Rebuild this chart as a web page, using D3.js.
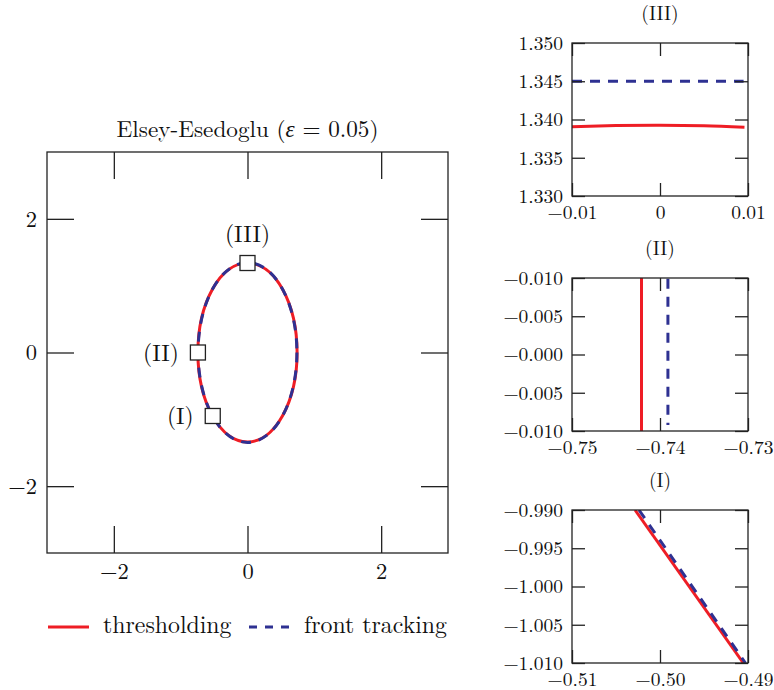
<!DOCTYPE html>
<html>
<head>
<meta charset="utf-8">
<script src="https://cdn.jsdelivr.net/npm/d3@7"></script>
<style>
  body { margin: 0; background: #fff; }
  svg text { fill: #111; }
</style>
</head>
<body>
<div id="chart"></div>
<script>
// ---- data ----
const seriesNames = ['thresholding', 'front tracking'];
const seriesColors = ['#ee1d25', '#2e3192'];

// interfaces on the full domain as [cx, cy, rx, ry]
const thresholdEllipse = [0, 0, 0.742, 1.3392];
const frontEllipse = [0, 0, 0.7395, 1.345];

const mainTicks = [-2, 0, 2];
const markerNames = ['(I)', '(II)', '(III)'];
const markerPoints = [[-0.52, -0.95], [-0.742, 0], [0, 1.339]];

// zoomed windows, top to bottom
const insetNames = ['(III)', '(II)', '(I)'];
const insetXDomains = [[-0.01, 0.01], [-0.75, -0.73], [-0.51, -0.49]];
const insetYDomains = [[1.33, 1.35], [-0.01, 0.01], [-1.01, -0.99]];
const insetXTicks = [[-0.01, 0, 0.01], [-0.75, -0.74, -0.73], [-0.51, -0.50, -0.49]];
const insetXLabels = [['−0.01', '0', '0.01'], ['−0.75', '−0.74', '−0.73'], ['−0.51', '−0.50', '−0.49']];
const insetYTicks = [[1.33, 1.335, 1.34, 1.345, 1.35],
                     [-0.01, -0.005, 0, 0.005, 0.01],
                     [-1.01, -1.005, -1.0, -0.995, -0.99]];
const insetYLabels = [['1.330', '1.335', '1.340', '1.345', '1.350'],
                      ['−0.010', '−0.005', '−0.000', '−0.005', '−0.010'],
                      ['−1.010', '−1.005', '−1.000', '−0.995', '−0.990']];
const thresholdInset = [
  [[-0.01, 1.33904], [-0.005, 1.33920], [0, 1.33925], [0.005, 1.33918], [0.0096, 1.33900]],
  [[-0.7421, 0.0101], [-0.7421, -0.0101]],
  [[-0.50284, -0.99], [-0.49053, -1.01]]
];
const frontInset = [
  [[-0.01, 1.345], [0.0095, 1.345]],
  [[-0.7391, 0.0099], [-0.7391, -0.0092]],
  [[-0.50239, -0.99], [-0.49029, -1.01]]
];

// ---- drawing ----
const width = 774, height = 690;
const ink = '#222';
const serif = '"Latin Modern Roman", "Liberation Serif", serif';
const dash = '10,8';

const svg = d3.select('#chart').append('svg')
  .attr('width', width).attr('height', height)
  .attr('font-family', serif);

// boxed axes with inward ticks on all four sides
function boxAxes(g, x, y, o) {
  const [x0, x1] = x.range();
  const [y1, y0] = y.range();
  const fmtX = o.xLabels ? (d, i) => o.xLabels[i] : d => d3.format('d')(d).replace('-', '−');
  const fmtY = o.yLabels ? (d, i) => o.yLabels[i] : d => d3.format('d')(d).replace('-', '−');
  const sides = [
    [d3.axisBottom(x).tickValues(o.xTicks).tickFormat(fmtX), `translate(0,${y1})`],
    [d3.axisTop(x).tickValues(o.xTicks).tickFormat(''), `translate(0,${y0})`],
    [d3.axisLeft(y).tickValues(o.yTicks).tickFormat(fmtY), `translate(${x0},0)`],
    [d3.axisRight(y).tickValues(o.yTicks).tickFormat(''), `translate(${x1},0)`]
  ];
  sides.forEach(([axis, tr]) => {
    const a = g.append('g').attr('transform', tr)
      .call(axis.tickSize(-o.tick).tickPadding(o.pad))
      .attr('font-size', o.fontSize)
      .attr('font-family', serif);
    a.select('.domain').remove();
    a.selectAll('line').attr('stroke', ink).attr('stroke-width', 1.3);
  });
  g.append('rect')
    .attr('x', x0).attr('y', y0)
    .attr('width', x1 - x0).attr('height', y1 - y0)
    .attr('fill', 'none').attr('stroke', ink).attr('stroke-width', 1.3);
}

// main panel
{
  const left = 47, top = 152, size = 401;
  const x = d3.scaleLinear().domain([-3, 3]).range([left, left + size]);
  const y = d3.scaleLinear().domain([-3, 3]).range([top + size, top]);
  const g = svg.append('g');

  g.append('text')
    .attr('x', left + size / 2).attr('y', 137)
    .attr('text-anchor', 'middle').attr('font-size', 23.2)
    .call(t => {
      t.append('tspan').text('Elsey-Esedoglu (');
      t.append('tspan').attr('font-style', 'italic').text('ε');
      t.append('tspan').text(' = 0.05)');
    });

  boxAxes(g, x, y, { xTicks: mainTicks, yTicks: mainTicks, tick: 27, pad: 10, fontSize: 22.5 });

  [thresholdEllipse, frontEllipse].forEach((e, i) => {
    g.append('ellipse')
      .attr('cx', x(e[0])).attr('cy', y(e[1]))
      .attr('rx', x(e[2]) - x(0)).attr('ry', y(0) - y(e[3]))
      .attr('fill', 'none')
      .attr('stroke', seriesColors[i]).attr('stroke-width', 3)
      .attr('stroke-dasharray', i === 1 ? dash : null);
  });

  const m = g.selectAll('g.marker').data(markerPoints).join('g')
    .attr('class', 'marker')
    .attr('transform', d => `translate(${x(d[0])},${y(d[1])})`);
  m.append('rect')
    .attr('x', -7.5).attr('y', -7.5).attr('width', 15).attr('height', 15)
    .attr('fill', '#fff').attr('stroke', ink).attr('stroke-width', 1.3);
  m.append('text')
    .attr('font-size', 23.5)
    .attr('text-anchor', (d, i) => i === 2 ? 'middle' : 'end')
    .attr('x', (d, i) => i === 2 ? 0 : -19)
    .attr('y', (d, i) => i === 2 ? -21 : 8)
    .text((d, i) => markerNames[i]);

  // legend
  const lg = svg.append('g').attr('font-size', 23.8);
  const lx = [48, 249];
  seriesNames.forEach((name, i) => {
    lg.append('line')
      .attr('x1', lx[i]).attr('x2', lx[i] + 41).attr('y1', 627).attr('y2', 627)
      .attr('stroke', seriesColors[i]).attr('stroke-width', 3)
      .attr('stroke-dasharray', i === 1 ? '8,8' : null);
    lg.append('text').attr('x', lx[i] + 55).attr('y', 633).text(name);
  });
}

// zoom insets
{
  const left = 572, w = 176, h = 153;
  const tops = [43, 278, 510];
  insetNames.forEach((name, k) => {
    const top = tops[k];
    const x = d3.scaleLinear().domain(insetXDomains[k]).range([left, left + w]);
    const y = d3.scaleLinear().domain(insetYDomains[k]).range([top + h, top]);
    const g = svg.append('g');

    g.append('text')
      .attr('x', left + w / 2).attr('y', top - 23)
      .attr('text-anchor', 'middle').attr('font-size', 19.5)
      .text(name);

    g.append('clipPath').attr('id', 'clip' + k)
      .append('rect').attr('x', left).attr('y', top).attr('width', w).attr('height', h);

    const line = d3.line().x(d => x(d[0])).y(d => y(d[1])).curve(d3.curveNatural);
    [thresholdInset[k], frontInset[k]].forEach((pts, i) => {
      g.append('path')
        .attr('clip-path', `url(#clip${k})`)
        .attr('d', line(pts))
        .attr('fill', 'none')
        .attr('stroke', seriesColors[i]).attr('stroke-width', 3)
        .attr('stroke-dasharray', i === 1 ? dash : null);
    });

    boxAxes(g, x, y, {
      xTicks: insetXTicks[k], yTicks: insetYTicks[k],
      xLabels: insetXLabels[k], yLabels: insetYLabels[k],
      tick: 13, pad: 9, fontSize: 19.5
    });
  });
}
</script>
</body>
</html>
